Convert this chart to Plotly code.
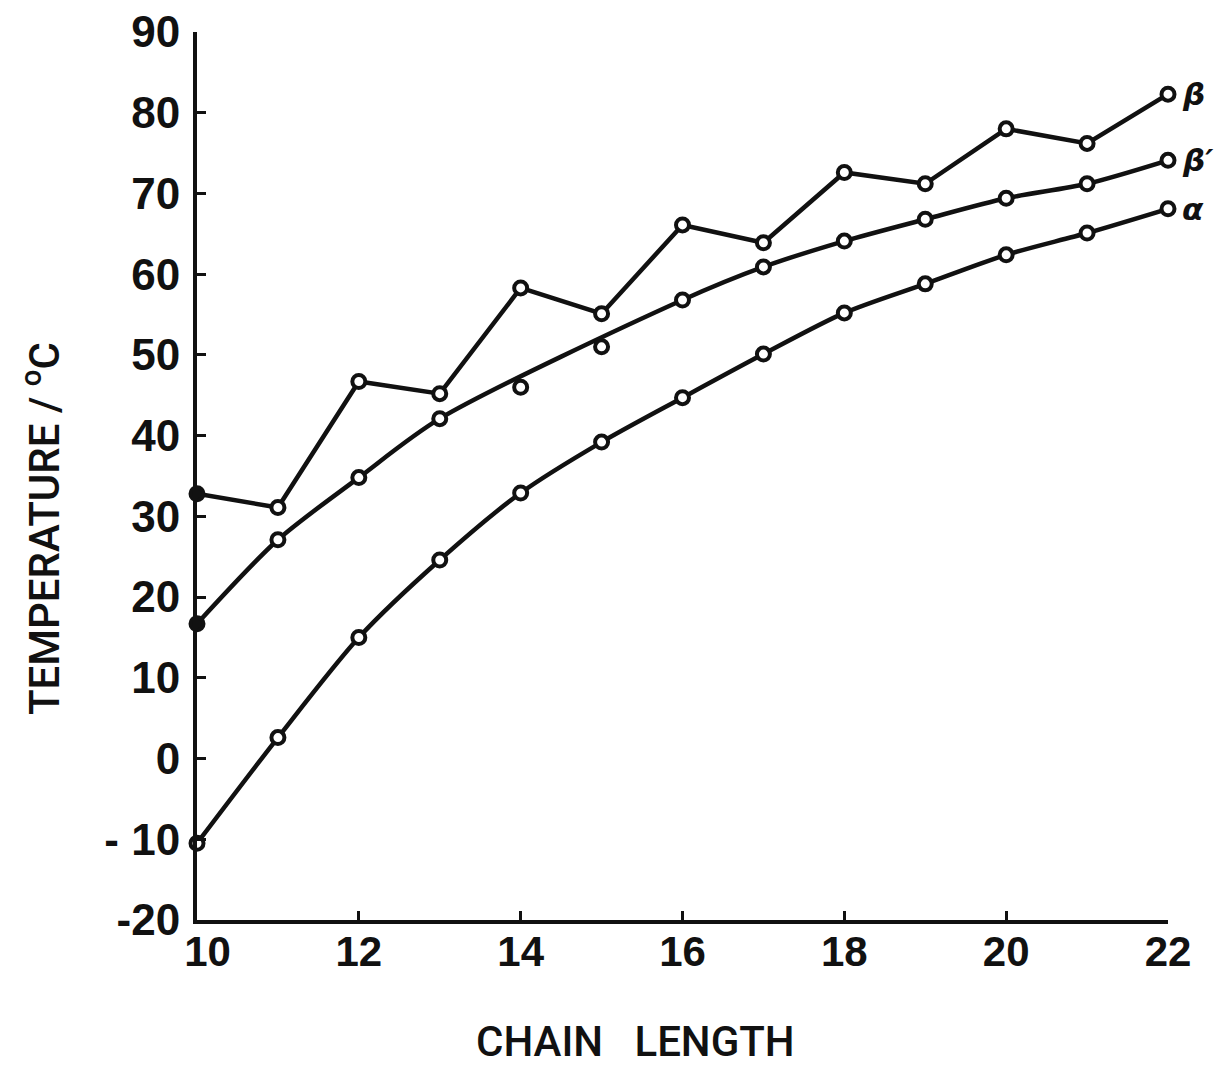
import plotly.graph_objects as go

# Chain length (number of carbon atoms)
chain_length = [10, 11, 12, 13, 14, 15, 16, 17, 18, 19, 20, 21, 22]

# Melting temperatures (deg C) of the three polymorphs
beta = [32.8, 31.1, 46.7, 45.2, 58.3, 55.1, 66.1, 63.9, 72.6, 71.2, 78.0, 76.2, 82.3]
alpha = [-10.5, 2.6, 15.0, 24.6, 32.9, 39.2, 44.7, 50.1, 55.2, 58.8, 62.4, 65.1, 68.1]

# beta-prime: smooth curve points and the two off-curve measurements
beta_prime_x = [10, 11, 12, 13, 16, 17, 18, 19, 20, 21, 22]
beta_prime = [16.7, 27.1, 34.8, 42.1, 56.8, 60.9, 64.1, 66.8, 69.4, 71.2, 74.1]
beta_prime_extra_x = [14, 15]
beta_prime_extra = [46.0, 51.0]

y_ticks = [-20, -10, 0, 10, 20, 30, 40, 50, 60, 70, 80, 90]
y_tick_text = ["-20", "- 10", "0", "10", "20", "30", "40", "50", "60", "70", "80", "90"]
x_ticks = [10, 12, 14, 16, 18, 20, 22]
x_tick_text = ["\u200210", "12", "14", "16", "18", "20", "22"]

INK = "#111111"
FONT = "Liberation Sans"
TITLE_FONT = "Roboto"
GREEK_FONT = "DejaVu Sans"


def marker_style(n, filled_first=False):
    fills = ["white"] * n
    if filled_first:
        fills[0] = INK
    return dict(symbol="circle", size=13, color=fills,
                line=dict(color=INK, width=4))


fig = go.Figure()

fig.add_trace(go.Scatter(
    x=chain_length, y=beta, mode="lines+markers",
    line=dict(color=INK, width=4.5),
    marker=marker_style(len(beta), filled_first=True),
    cliponaxis=False, showlegend=False, name="β"))

fig.add_trace(go.Scatter(
    x=beta_prime_x, y=beta_prime, mode="lines+markers",
    line=dict(color=INK, width=4.5, shape="spline", smoothing=0.8),
    marker=marker_style(len(beta_prime), filled_first=True),
    cliponaxis=False, showlegend=False, name="β′"))

fig.add_trace(go.Scatter(
    x=beta_prime_extra_x, y=beta_prime_extra, mode="markers",
    marker=marker_style(len(beta_prime_extra)),
    cliponaxis=False, showlegend=False, name="β′ (extra)"))

fig.add_trace(go.Scatter(
    x=chain_length, y=alpha, mode="lines+markers",
    line=dict(color=INK, width=4.5, shape="spline", smoothing=0.8),
    marker=marker_style(len(alpha)),
    cliponaxis=False, showlegend=False, name="α"))

# Polymorph labels at the right-hand ends of the curves
for text, yv in [("β", beta[-1]), ("β′", beta_prime[-1]), ("α", alpha[-1])]:
    fig.add_annotation(
        x=chain_length[-1], y=yv, xref="x", yref="y", text=f"<b><i>{text}</i></b>",
        showarrow=False, xanchor="left", yanchor="middle", xshift=12,
        font=dict(family=GREEK_FONT, size=31, color=INK))

# Axis titles
fig.add_annotation(
    x=0.452, y=-0.137, xref="paper", yref="paper",
    text="CHAIN\u00a0\u00a0\u00a0LENGTH", showarrow=False,
    xanchor="center", yanchor="middle",
    font=dict(family=TITLE_FONT, size=42, color=INK, weight=500))
fig.add_annotation(
    x=-0.160, y=0.441, xref="paper", yref="paper",
    text="TEMPERATURE / <sup>o</sup>C", showarrow=False, textangle=-90,
    xanchor="center", yanchor="middle",
    font=dict(family=TITLE_FONT, size=42, color=INK, weight=500))

fig.update_xaxes(
    range=[10, 22], tickvals=x_ticks, ticktext=x_tick_text, ticks="inside",
    ticklen=9, tickwidth=3, tickcolor=INK, showline=True, linecolor=INK,
    linewidth=4, showgrid=False, zeroline=False, ticklabelstandoff=-8,
    automargin=False,
    tickfont=dict(family=FONT, size=42, color=INK, weight="bold"))
fig.update_yaxes(
    range=[-20, 90], tickvals=y_ticks, ticktext=y_tick_text, ticks="inside",
    ticklen=9, tickwidth=3, tickcolor=INK, showline=True, linecolor=INK,
    linewidth=4, showgrid=False, zeroline=False, ticklabelstandoff=4,
    automargin=False,
    tickfont=dict(family=FONT, size=44, color=INK, weight="bold"))

fig.update_layout(
    width=1221, height=1069,
    margin=dict(l=197, r=53, t=32, b=149),
    paper_bgcolor="white", plot_bgcolor="white",
    font=dict(family=FONT, color=INK))

fig.write_html("out.html")
